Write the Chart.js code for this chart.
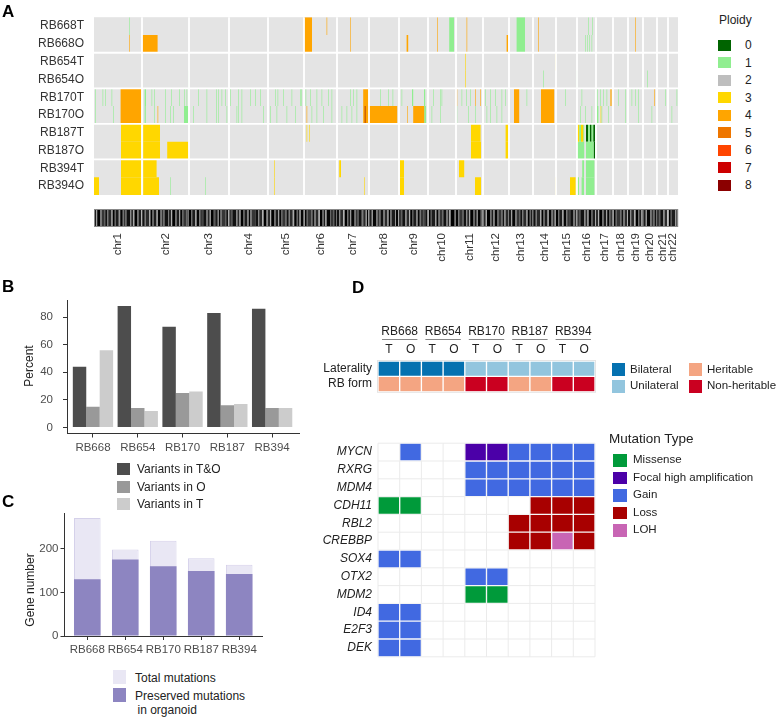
<!DOCTYPE html>
<html>
<head>
<meta charset="utf-8">
<script src="https://cdn.jsdelivr.net/npm/chart.js@4.4.0/dist/chart.umd.min.js"></script>
<style>
body { margin: 0; background: #fff; font-family: 'Liberation Sans', Arial, sans-serif; }
#page { position: relative; width: 777px; height: 717px; overflow: hidden; }
canvas { position: absolute; }
.txt { position: absolute; white-space: nowrap; line-height: 1; color: #222; }
.panel { position: absolute; font-weight: bold; font-size: 17px; line-height: 1; color: #000; }
.sw { position: absolute; }
</style>
</head>
<body>
<div id="page">
  <canvas id="cnvChart" width="700" height="270" style="left:0;top:0"></canvas>
  <canvas id="variantChart" width="310" height="180" style="left:0;top:280px"></canvas>
  <canvas id="geneChart" width="300" height="170" style="left:0;top:500px"></canvas>
  <canvas id="annotChart" width="310" height="105" style="left:300px;top:300px"></canvas>
  <canvas id="mutChart" width="310" height="240" style="left:300px;top:430px"></canvas>
</div>
<script>
Chart.defaults.font.family = "'Liberation Sans', Arial, sans-serif";

// ============================================
// PANEL A - copy number data
// ============================================
const samplesA = ['RB668T', 'RB668O', 'RB654T', 'RB654O', 'RB170T', 'RB170O', 'RB187T', 'RB187O', 'RB394T', 'RB394O'];
const chromNames = ['chr1', 'chr2', 'chr3', 'chr4', 'chr5', 'chr6', 'chr7', 'chr8', 'chr9', 'chr10', 'chr11',
    'chr12', 'chr13', 'chr14', 'chr15', 'chr16', 'chr17', 'chr18', 'chr19', 'chr20', 'chr21', 'chr22'];
// chromosome sizes in Mb, as drawn
const chromSizes = [240, 235, 200, 195, 180, 165, 160, 150, 145, 140, 135, 130, 120, 115, 105, 95, 85, 75, 75, 70, 55, 50];
const ploidyLevels = ['0', '1', '2', '3', '4', '5', '6', '7', '8'];
const ploidyColors = ['#006400', '#90EE90', '#BEBEBE', '#FFD700', '#FFA500', '#EE7600', '#FF4500', '#CD0000', '#8B0000'];

// larger segments: [sample, start Mb, end Mb, ploidy] (genome-wide position)
const cnvBlocks = [
    ['RB668T', 1050, 1090, 4], ['RB668T', 1776, 1800, 1], ['RB668T', 2113, 2155, 1],
    ['RB668O', 241, 318, 4], ['RB668O', 1050, 1090, 4], ['RB668O', 1563, 1571, 4], ['RB668O', 1776, 1800, 1],
    ['RB668O', 2063, 2071, 4], ['RB668O', 2113, 2155, 1],
    ['RB170T', 133, 238, 4], ['RB170T', 253, 260, 1], ['RB170T', 1032, 1038, 1], ['RB170T', 1346, 1372, 4],
    ['RB170T', 1590, 1596, 1], ['RB170T', 1650, 1656, 1], ['RB170T', 2100, 2126, 4], ['RB170T', 2235, 2301, 4],
    ['RB170T', 2512, 2518, 1],
    ['RB170O', 133, 238, 4], ['RB170O', 253, 259, 1], ['RB170O', 450, 471, 1], ['RB170O', 1346, 1516, 4],
    ['RB170O', 1354, 1357, 8], ['RB170O', 1596, 1651, 4], ['RB170O', 1651, 1660, 1], ['RB170O', 2100, 2126, 4],
    ['RB170O', 2235, 2301, 4], ['RB170O', 2515, 2522, 1],
    ['RB187T', 135, 238, 3], ['RB187T', 246, 330, 3], ['RB187T', 1885, 1933, 3], ['RB187T', 2058, 2071, 3],
    ['RB187T', 2416, 2426, 3], ['RB187T', 2426, 2435, 1], ['RB187T', 2435, 2446, 3], ['RB187T', 2446, 2451, 1],
    ['RB187T', 2460, 2471, 0], ['RB187T', 2471, 2480, 1], ['RB187T', 2480, 2488, 0], ['RB187T', 2488, 2496, 1],
    ['RB187T', 2496, 2505, 0],
    ['RB187O', 135, 238, 3], ['RB187O', 246, 330, 3], ['RB187O', 366, 473, 3], ['RB187O', 1885, 1935, 3],
    ['RB187O', 2058, 2071, 3], ['RB187O', 2416, 2451, 1], ['RB187O', 2460, 2498, 1], ['RB187O', 2498, 2505, 0],
    ['RB394T', 135, 238, 3], ['RB394T', 246, 313, 3], ['RB394T', 1226, 1235, 3], ['RB394T', 1530, 1550, 3],
    ['RB394T', 1825, 1851, 3], ['RB394T', 2441, 2450, 1], ['RB394T', 2460, 2502, 1],
    ['RB394O', 0, 25, 3], ['RB394O', 135, 238, 3], ['RB394O', 246, 325, 3], ['RB394O', 1530, 1550, 3],
    ['RB394O', 1905, 1935, 3], ['RB394O', 2380, 2408, 3], ['RB394O', 2416, 2425, 1], ['RB394O', 2438, 2450, 1],
    ['RB394O', 2460, 2502, 1]
];

// short focal events: [sample, ploidy, start positions in Mb]
const cnvFocal = [
    ['RB170T', 1, [5, 43, 55, 88, 288, 301, 355, 385, 426, 451, 463, 521, 563, 610, 621, 638, 655, 680, 721, 738,
        780, 805, 830, 905, 918, 946, 988, 1058, 1080, 1113, 1138, 1171, 1188, 1280, 1296, 1313, 1430, 1471, 1493,
        1538, 1696, 1730, 1738, 1838, 1860, 1880, 1955, 1980, 2005, 2038, 2055, 2163, 2355, 2438, 2530, 2546, 2563,
        2621, 2655, 2688, 2705, 2721, 2855, 2913]],
    ['RB170T', 4, [1813, 1905, 1930, 2580, 2585, 2801]],
    ['RB170O', 1, [5, 96, 301, 355, 380, 396, 496, 563, 610, 621, 663, 713, 721, 738, 846, 880, 913, 963, 1005,
        1088, 1113, 1146, 1188, 1238, 1263, 1288, 1313, 1688, 1730, 1813, 1871, 1905, 1963, 1980, 2013, 2038, 2430,
        2455, 2488, 2538, 2571, 2655, 2721, 2788, 2888]],
    ['RB170O', 4, [318, 1063, 1565]],
    ['RB170O', 3, [2533]],
    ['RB668T', 4, [1163, 1280, 1716, 1863, 2221, 2705]],
    ['RB668T', 1, [176, 2470, 2490]],
    ['RB668O', 4, [176, 1280, 1716, 1863, 2221, 2705]],
    ['RB668O', 1, [2455, 2465, 2475, 2488]],
    ['RB654T', 3, [1855, 2305]],
    ['RB654O', 1, [471, 2246, 2413, 2766]],
    ['RB654O', 3, [1855]],
    ['RB187T', 3, [1063, 1075]],
    ['RB394T', 3, [900]],
    ['RB394O', 3, [900, 1351, 2305]],
    ['RB394O', 1, [380, 555]]
];

// ============================================
// PANEL B / C - variant data
// ============================================
const sampleNames = ['RB668', 'RB654', 'RB170', 'RB187', 'RB394'];
const variantsTO = [44, 88, 73, 83, 86];
const variantsO = [15, 14, 25, 16, 14];
const variantsT = [56, 12, 26, 17, 14];
const percentTicks = [0, 20, 40, 60, 80];

const totalMutations = [270, 198, 218, 178, 163];
const preservedMutations = [130, 175, 160, 149, 142];
const geneTicks = [0, 100, 200];

// ============================================
// PANEL D - annotation and mutation data
// ============================================
const tissueTypes = ['T', 'O'];
const annotationRows = ['Laterality', 'RB form'];
const lateralityBySample = ['Bilateral', 'Bilateral', 'Unilateral', 'Unilateral', 'Unilateral'];
const rbFormBySample = ['Heritable', 'Heritable', 'Non-heritable', 'Heritable', 'Non-heritable'];
const annotationValues = ['Bilateral', 'Unilateral', 'Heritable', 'Non-heritable'];
const annotationColors = ['#0571B0', '#92C5DE', '#F4A582', '#CA0020'];

const geneNames = ['MYCN', 'RXRG', 'MDM4', 'CDH11', 'RBL2', 'CREBBP', 'SOX4', 'OTX2', 'MDM2', 'ID4', 'E2F3', 'DEK'];
const mutationTypes = ['Missense', 'Focal high amplification', 'Gain', 'Loss', 'LOH'];
const mutationCodes = ['M', 'F', 'G', 'L', 'H'];
const mutationColors = ['#009A3A', '#4B00A8', '#4169E1', '#A80000', '#C865B4'];
// one string per gene, one letter per column (RB668 T,O ... RB394 T,O)
const mutationCalls = [
    '.G..FFGGGG',
    '....GGGGGG',
    '....GGGGGG',
    'MM.....LLL',
    '......LLLL',
    '......LLHL',
    'GG........',
    '....GG....',
    '....MM....',
    'GG........',
    'GG........',
    'GG........'
];

// ============================================
// HELPERS
// ============================================
const page = document.getElementById('page');

function addText(txt, x, cy, size, extra) {
    const d = document.createElement('div');
    d.className = 'txt';
    d.textContent = txt;
    d.style.left = x + 'px';
    d.style.top = (cy - size * 0.49) + 'px';
    d.style.fontSize = size + 'px';
    if (extra) Object.assign(d.style, extra);
    page.appendChild(d);
}

function addSwatch(x, y, w, h, color) {
    const d = document.createElement('div');
    d.className = 'sw';
    Object.assign(d.style, { left: x + 'px', top: y + 'px', width: w + 'px', height: h + 'px', background: color });
    page.appendChild(d);
}

function addPanel(letter, x, y) {
    const d = document.createElement('div');
    d.className = 'panel';
    d.textContent = letter;
    d.style.left = x + 'px';
    d.style.top = y + 'px';
    page.appendChild(d);
}

const axisTitlePlugin = {
    id: 'axisTitle',
    afterDraw(chart, args, opts) {
        if (!opts || !opts.text) return;
        const ctx = chart.ctx;
        ctx.save();
        ctx.translate(opts.x, opts.y);
        ctx.rotate(-Math.PI / 2);
        ctx.font = opts.font;
        ctx.fillStyle = opts.color;
        ctx.textAlign = 'center';
        ctx.textBaseline = 'middle';
        ctx.fillText(opts.text, 0, 0);
        ctx.restore();
    }
};

// ============================================
// PANEL A - heatmap
// ============================================
const genomeLength = chromSizes.reduce((a, b) => a + b, 0);
const chromStarts = [];
let acc = 0;
chromSizes.forEach(s => { chromStarts.push(acc); acc += s; });
const chromCenters = chromStarts.map((s, i) => s + chromSizes[i] / 2);

const cnvDatasets = ploidyLevels.map((lvl, p) => ({
    label: 'Ploidy ' + lvl,
    backgroundColor: ploidyColors[p],
    order: -p,
    grouped: false,
    barPercentage: 1,
    categoryPercentage: 1,
    borderWidth: 0,
    inflateAmount: 0,
    data: []
}));
cnvBlocks.forEach(([s, a, b, p]) => cnvDatasets[p].data.push({ y: s, x: [a, b] }));
cnvFocal.forEach(([s, p, list]) => list.forEach(pos => cnvDatasets[p].data.push({ y: s, x: [pos, pos + 3] })));

const bandShades = ['#1c1c1c', '#7a7a7a', '#050505', '#a8a8a8', '#353535', '#5a5a5a', '#111', '#969696', '#2a2a2a', '#666', '#000', '#444'];
const bandWidths = [2.2, 1, 3, 1.4, 2.6, 1, 1.8, 1.2, 3.4, 1];

const heatmapPlugin = {
    id: 'heatmapFrame',
    beforeDatasetsDraw(chart) {
        const { ctx, chartArea: a } = chart;
        ctx.save();
        ctx.fillStyle = '#e4e4e4';
        ctx.fillRect(a.left, a.top, a.right - a.left, a.bottom - a.top);
        ctx.restore();
    },
    afterDatasetsDraw(chart) {
        const { ctx, chartArea: a, scales } = chart;
        ctx.save();
        ctx.strokeStyle = '#fff';
        ctx.lineWidth = 1.8;
        chromStarts.slice(1).forEach(v => {
            const x = scales.x.getPixelForValue(v);
            ctx.beginPath(); ctx.moveTo(x, a.top); ctx.lineTo(x, a.bottom); ctx.stroke();
        });
        for (let i = 1; i < samplesA.length - 1; i += 2) {
            const y = (scales.y.getPixelForValue(i) + scales.y.getPixelForValue(i + 1)) / 2;
            ctx.beginPath(); ctx.moveTo(a.left, y); ctx.lineTo(a.right, y); ctx.stroke();
        }
        ctx.restore();
    },
    afterDraw(chart) {
        // chromosome ideogram band under the heatmap
        const { ctx, chartArea: a, scales } = chart;
        const top = a.bottom + 14, h = 18;
        ctx.save();
        chromStarts.forEach((st, c) => {
            const x0 = scales.x.getPixelForValue(st);
            const x1 = scales.x.getPixelForValue(st + chromSizes[c]);
            let k = c * 5;
            for (let x = x0; x < x1; k++) {
                const w = bandWidths[k % bandWidths.length];
                ctx.fillStyle = bandShades[(k * 7) % bandShades.length];
                ctx.fillRect(x, top, Math.min(w, x1 - x), h);
                x += w;
            }
            ctx.fillStyle = '#cfcfcf';
            ctx.fillRect(x1 - 0.5, top, 1, h);
        });
        ctx.strokeStyle = '#888';
        ctx.lineWidth = 1;
        ctx.strokeRect(a.left + 0.5, top + 0.5, a.right - a.left - 1, h - 1);
        ctx.restore();
    }
};

new Chart(document.getElementById('cnvChart'), {
    type: 'bar',
    data: { labels: samplesA, datasets: cnvDatasets },
    options: {
        indexAxis: 'y',
        responsive: false,
        animation: false,
        layout: { padding: { left: 0, right: 22, top: 14, bottom: 0 } },
        plugins: { legend: { display: false }, tooltip: { enabled: false } },
        scales: {
            y: {
                type: 'category',
                grid: { display: false, drawTicks: false },
                border: { display: false },
                ticks: { color: '#333', font: { size: 12 }, padding: 10 },
                afterFit: s => { s.width = 94; }
            },
            x: {
                type: 'linear',
                min: 0,
                max: genomeLength,
                offset: false,
                grid: { display: false, drawTicks: false },
                border: { display: false },
                afterBuildTicks: s => { s.ticks = chromCenters.map(v => ({ value: v })); },
                ticks: {
                    autoSkip: false, minRotation: 90, maxRotation: 90, padding: 38,
                    color: '#333', font: { size: 11.5 },
                    callback: (v, i) => chromNames[i]
                },
                afterFit: s => { s.height = 75; s.paddingLeft = 0; s.paddingRight = 0; }
            }
        }
    },
    plugins: [heatmapPlugin]
});

// ploidy legend
addText('Ploidy', 719, 20, 12);
ploidyLevels.forEach((lvl, i) => {
    addSwatch(718, 39.5 + 17.5 * i, 12.5, 11, ploidyColors[i]);
    addText(lvl, 745, 45 + 17.5 * i, 12);
});

// ============================================
// PANEL B - variant percentages
// ============================================
const axisColor = '#333';
const tickTextColor = '#4d4d4d';

function ggAxes(xMin, xMax, yMin, yMax, yTicks, yWidth, xHeight, yPad) {
    return {
        x: {
            type: 'linear', min: xMin, max: xMax, offset: false,
            afterBuildTicks: s => { s.ticks = sampleNames.map((n, i) => ({ value: i })); },
            ticks: { autoSkip: false, maxRotation: 0, padding: 3, color: tickTextColor, font: { size: 11.5 },
                callback: (v, i) => sampleNames[i] },
            grid: { drawOnChartArea: false, offset: false, tickLength: 4, color: axisColor },
            border: { color: axisColor, width: 1 },
            afterFit: s => { s.height = xHeight; }
        },
        y: {
            min: yMin, max: yMax,
            afterBuildTicks: s => { s.ticks = yTicks.map(v => ({ value: v })); },
            ticks: { padding: yPad, color: tickTextColor, font: { size: 11.5 } },
            grid: { drawOnChartArea: false, tickLength: 4, color: axisColor },
            border: { color: axisColor, width: 1 },
            afterFit: s => { s.width = yWidth; }
        }
    };
}

new Chart(document.getElementById('variantChart'), {
    type: 'bar',
    data: {
        datasets: [
            { label: 'Variants in T&O', data: variantsTO.map((v, i) => ({ x: i, y: v })), backgroundColor: '#4d4d4d' },
            { label: 'Variants in O', data: variantsO.map((v, i) => ({ x: i, y: v })), backgroundColor: '#999999' },
            { label: 'Variants in T', data: variantsT.map((v, i) => ({ x: i, y: v })), backgroundColor: '#cccccc' }
        ]
    },
    options: {
        responsive: false,
        animation: false,
        layout: { padding: { left: 0, right: 11, top: 20, bottom: 0 } },
        datasets: { bar: { categoryPercentage: 0.9, barPercentage: 1, borderWidth: 0 } },
        plugins: {
            legend: { display: false }, tooltip: { enabled: false },
            axisTitle: { text: 'Percent', x: 30, y: 86, font: "12px 'Liberation Sans', Arial, sans-serif", color: '#222' }
        },
        scales: ggAxes(-0.58, 4.6, -4.4, 92.4, percentTicks, 67, 26.5, 10)
    },
    plugins: [axisTitlePlugin]
});

addSwatch(117, 463, 13, 12, '#4d4d4d');
addSwatch(117, 480.5, 13, 12, '#999999');
addSwatch(117, 498, 13, 12, '#cccccc');
addText('Variants in T&O', 137, 469, 12);
addText('Variants in O', 137, 486.5, 12);
addText('Variants in T', 137, 504, 12);

// ============================================
// PANEL C - gene numbers
// ============================================
new Chart(document.getElementById('geneChart'), {
    type: 'bar',
    data: {
        datasets: [
            { label: 'Preserved mutations in organoid', data: preservedMutations.map((v, i) => ({ x: i, y: v })),
              backgroundColor: '#8D85C1', borderWidth: 0 },
            { label: 'Total mutations', data: totalMutations.map((v, i) => ({ x: i, y: v })),
              backgroundColor: '#E9E7F4', borderColor: '#D5D1EA', borderWidth: 1 }
        ]
    },
    options: {
        responsive: false,
        animation: false,
        layout: { padding: { left: 0, right: 38, top: 13.3, bottom: 0 } },
        datasets: { bar: { categoryPercentage: 0.7, barPercentage: 1, grouped: false } },
        plugins: {
            legend: { display: false }, tooltip: { enabled: false },
            axisTitle: { text: 'Gene number', x: 31, y: 90, font: "12px 'Liberation Sans', Arial, sans-serif", color: '#222' }
        },
        scales: ggAxes(-0.6, 4.6, 0, 281, geneTicks, 64.5, 34, 2)
    },
    plugins: [axisTitlePlugin]
});

addSwatch(112.5, 669.5, 13.5, 14, '#E9E7F4');
addSwatch(112.5, 687.5, 13.5, 14, '#8D85C1');
addText('Total mutations', 135, 677.5, 12);
addText('Preserved mutations', 135, 695.5, 12);
addText('in organoid', 137.5, 710, 12);

// ============================================
// PANEL D - annotation + mutation heatmaps
// ============================================
const nCols = sampleNames.length * tissueTypes.length;

const annotDatasets = annotationValues.map((val, k) => ({
    label: val, backgroundColor: annotationColors[k], data: [],
    grouped: false, barPercentage: 1, categoryPercentage: 1,
    borderWidth: 1, borderColor: 'rgba(255,255,255,0.35)', borderSkipped: false
}));
sampleNames.forEach((s, si) => {
    tissueTypes.forEach((t, ti) => {
        const c = si * 2 + ti;
        annotDatasets[annotationValues.indexOf(lateralityBySample[si])].data.push({ y: 'Laterality', x: [c, c + 1] });
        annotDatasets[annotationValues.indexOf(rbFormBySample[si])].data.push({ y: 'RB form', x: [c, c + 1] });
    });
});

const annotHeaderPlugin = {
    id: 'annotHeader',
    afterDraw(chart) {
        const { ctx, chartArea: a, scales } = chart;
        ctx.save();
        ctx.fillStyle = '#222';
        ctx.font = "12px 'Liberation Sans', Arial, sans-serif";
        ctx.textAlign = 'center';
        ctx.textBaseline = 'middle';
        sampleNames.forEach((s, si) => {
            const x0 = scales.x.getPixelForValue(si * 2), x1 = scales.x.getPixelForValue(si * 2 + 2);
            ctx.fillText(s, (x0 + x1) / 2, a.top - 29);
            ctx.strokeStyle = '#888';
            ctx.lineWidth = 1;
            ctx.beginPath(); ctx.moveTo(x0 + 4, a.top - 21.5); ctx.lineTo(x1 - 4, a.top - 21.5); ctx.stroke();
            tissueTypes.forEach((t, ti) => {
                ctx.fillText(t, scales.x.getPixelForValue(si * 2 + ti + 0.5), a.top - 11);
            });
        });
        ctx.strokeStyle = '#e4e4e4';
        ctx.strokeRect(a.left - 0.5, a.top - 0.5, a.right - a.left + 1, a.bottom - a.top + 1);
        ctx.restore();
    }
};

const cellAxes = (rows, yWidth) => ({
    y: {
        type: 'category', labels: rows,
        grid: { display: false, drawTicks: false }, border: { display: false },
        ticks: { color: '#222', font: { size: 12 }, padding: 6 },
        afterFit: s => { s.width = yWidth; }
    },
    x: { type: 'linear', min: 0, max: nCols, display: false, offset: false }
});

new Chart(document.getElementById('annotChart'), {
    type: 'bar',
    data: { labels: annotationRows, datasets: annotDatasets },
    options: {
        indexAxis: 'y',
        responsive: false,
        animation: false,
        layout: { padding: { left: 0, right: 15, top: 61, bottom: 7 } },
        plugins: { legend: { display: false }, tooltip: { enabled: false } },
        scales: cellAxes(annotationRows, 78)
    },
    plugins: [annotHeaderPlugin]
});

const mutDatasets = mutationTypes.map((m, k) => ({
    label: m, backgroundColor: mutationColors[k], data: [],
    grouped: false, barPercentage: 1, categoryPercentage: 1,
    borderWidth: 1, borderColor: 'rgba(255,255,255,0.4)', borderSkipped: false
}));
mutationCalls.forEach((row, g) => {
    row.split('').forEach((code, c) => {
        const k = mutationCodes.indexOf(code);
        if (k >= 0) mutDatasets[k].data.push({ y: geneNames[g], x: [c, c + 1] });
    });
});

const mutGridPlugin = {
    id: 'mutGrid',
    beforeDatasetsDraw(chart) {
        const { ctx, chartArea: a, scales } = chart;
        const rowH = (a.bottom - a.top) / geneNames.length;
        ctx.save();
        ctx.strokeStyle = '#ebebeb';
        ctx.lineWidth = 1;
        for (let c = 0; c <= nCols; c++) {
            const x = scales.x.getPixelForValue(c);
            ctx.beginPath(); ctx.moveTo(x, a.top); ctx.lineTo(x, a.bottom); ctx.stroke();
        }
        for (let r = 0; r <= geneNames.length; r++) {
            const y = a.top + r * rowH;
            ctx.beginPath(); ctx.moveTo(a.left, y); ctx.lineTo(a.right, y); ctx.stroke();
        }
        ctx.restore();
    }
};

const mutAxes = cellAxes(geneNames, 78);
mutAxes.y.ticks.font = { size: 12, style: 'italic' };

new Chart(document.getElementById('mutChart'), {
    type: 'bar',
    data: { labels: geneNames, datasets: mutDatasets },
    options: {
        indexAxis: 'y',
        responsive: false,
        animation: false,
        layout: { padding: { left: 0, right: 15, top: 7.5, bottom: 13 } },
        plugins: { legend: { display: false }, tooltip: { enabled: false } },
        scales: mutAxes
    },
    plugins: [mutGridPlugin]
});

// D legends
addSwatch(612, 363, 13, 13, annotationColors[0]);
addSwatch(612, 379.5, 13, 13, annotationColors[1]);
addSwatch(688.5, 363, 13, 13, annotationColors[2]);
addSwatch(688.5, 379.5, 13, 13, annotationColors[3]);
addText(annotationValues[0], 630, 369.5, 11.5);
addText(annotationValues[1], 630, 386, 11.5);
addText(annotationValues[2], 707, 369.5, 11.5);
addText(annotationValues[3], 707, 386, 11.5);

addText('Mutation Type', 609, 438.5, 13.5);
mutationTypes.forEach((m, k) => {
    addSwatch(613, 454 + 17.5 * k, 13.5, 12.5, mutationColors[k]);
    addText(m, 633, 460 + 17.5 * k, 11.5);
});

addPanel('A', 2, 3);
addPanel('B', 2, 278);
addPanel('C', 2, 493);
addPanel('D', 352, 279);
</script>
</body>
</html>
